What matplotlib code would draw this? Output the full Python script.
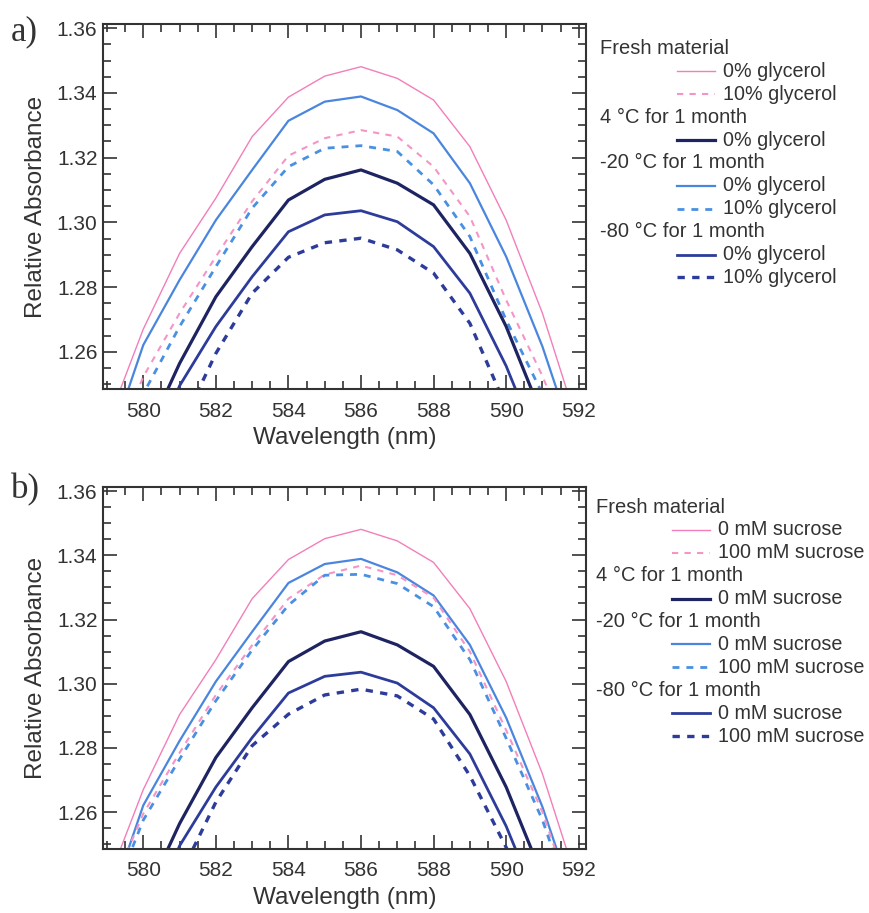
import numpy as np
import matplotlib
matplotlib.use("Agg")
import matplotlib.pyplot as plt
from matplotlib.lines import Line2D
from matplotlib.ticker import MultipleLocator, FormatStrFormatter

plt.rcParams['font.family'] = ['Liberation Sans', 'DejaVu Sans']

# wavelength (nm)
wl = np.arange(579, 593)

# curves shared by both panels
fresh_0 = [1.2376, 1.2670, 1.2904, 1.3075, 1.3265, 1.3387, 1.3452, 1.3481, 1.3445, 1.3378, 1.3234, 1.3007, 1.2719, 1.2366]
c4_0 = [1.2050, 1.2320, 1.2564, 1.2770, 1.2925, 1.3069, 1.3133, 1.3162, 1.3121, 1.3054, 1.2904, 1.2678, 1.2400, 1.2100]
m20_0 = [1.2290, 1.2621, 1.2822, 1.3007, 1.3162, 1.3314, 1.3373, 1.3389, 1.3347, 1.3275, 1.3121, 1.2894, 1.2616, 1.2280]
m80_0 = [1.1950, 1.2220, 1.2495, 1.2678, 1.2832, 1.2971, 1.3023, 1.3036, 1.3002, 1.2925, 1.2781, 1.2556, 1.2280, 1.2000]

# panel a: 10% glycerol
fresh_gly = [1.2250, 1.2523, 1.2719, 1.2894, 1.3065, 1.3206, 1.3260, 1.3285, 1.3265, 1.3172, 1.3018, 1.2760, 1.2525, 1.2250]
m20_gly = [1.2220, 1.2470, 1.2678, 1.2863, 1.3044, 1.3172, 1.3229, 1.3237, 1.3219, 1.3116, 1.2956, 1.2698, 1.2470, 1.2200]
m80_gly = [1.1800, 1.2100, 1.2360, 1.2595, 1.2781, 1.2892, 1.2937, 1.2951, 1.2915, 1.2843, 1.2688, 1.2430, 1.2150, 1.1900]

# panel b: 100 mM sucrose
fresh_suc = [1.2330, 1.2595, 1.2785, 1.2965, 1.3120, 1.3265, 1.3340, 1.3368, 1.3338, 1.3268, 1.3100, 1.2855, 1.2600, 1.2270]
m20_suc = [1.2290, 1.2575, 1.2765, 1.2947, 1.3105, 1.3245, 1.3338, 1.3341, 1.3312, 1.3240, 1.3075, 1.2830, 1.2575, 1.2250]
m80_suc = [1.1900, 1.2180, 1.2400, 1.2631, 1.2807, 1.2905, 1.2965, 1.2983, 1.2962, 1.2890, 1.2713, 1.2490, 1.2250, 1.2000]

groups = ['Fresh material', '4 \u00b0C for 1 month', '-20 \u00b0C for 1 month', '-80 \u00b0C for 1 month']

PINK = '#f27fba'
PINK_D = '#f495c6'
BLUE = '#4a86de'
BLUE_D = '#4a90e2'
NAVY = '#1e2462'
ROYAL = '#2d3c9a'
TXT = '#333333'

sty = {
    'fresh0': dict(color=PINK, lw=1.0, ls='-'),
    'fresh1': dict(color=PINK_D, lw=1.5, dashes=(3, 3)),
    'c40': dict(color=NAVY, lw=2.3, ls='-'),
    'm200': dict(color=BLUE, lw=1.6, ls='-'),
    'm201': dict(color=BLUE_D, lw=2.0, dashes=(2.5, 2.5)),
    'm800': dict(color=ROYAL, lw=2.0, ls='-'),
    'm801': dict(color=ROYAL, lw=2.4, dashes=(2.2, 2.2)),
}

W, H = 870, 913
fig = plt.figure(figsize=(W / 100, H / 100), dpi=100)


def px(x, y):
    return x / W, 1 - y / H


def panel(ax, extra, unit, letter, ly, lx):
    series = [('fresh0', fresh_0), ('m200', m20_0), ('fresh1', extra[0]),
              ('m201', extra[1]), ('c40', c4_0), ('m800', m80_0), ('m801', extra[2])]
    for key, vals in series:
        ax.plot(wl, vals, **sty[key])
    ax.set_xlim(578.89, 592.2)
    ax.set_ylim(1.2485, 1.3613)
    ax.xaxis.set_major_locator(MultipleLocator(2))
    ax.xaxis.set_minor_locator(MultipleLocator(0.5))
    ax.yaxis.set_major_locator(MultipleLocator(0.02))
    ax.yaxis.set_minor_locator(MultipleLocator(0.005))
    ax.yaxis.set_major_formatter(FormatStrFormatter('%.2f'))
    ax.tick_params(which='both', direction='in', top=True, right=True,
                   colors=TXT, width=1.2, labelsize=15)
    ax.tick_params(which='major', length=10)
    ax.tick_params(which='minor', length=5.5)
    ax.tick_params(axis='x', pad=9)
    ax.tick_params(axis='y', pad=4)
    for s in ax.spines.values():
        s.set_linewidth(1.5)
        s.set_color(TXT)
    ax.set_xlabel('Wavelength (nm)', fontsize=17.5, color=TXT, labelpad=5)
    ax.set_ylabel('Relative Absorbance', fontsize=17.5, color=TXT, labelpad=7)

    # legend, laid out by hand
    x_head, x_h0, x_h1, x_txt = lx
    rows = [(groups[0], None), ('fresh0', '0' + unit), ('fresh1', extra[3] + unit),
            (groups[1], None), ('c40', '0' + unit),
            (groups[2], None), ('m200', '0' + unit), ('m201', extra[3] + unit),
            (groups[3], None), ('m800', '0' + unit), ('m801', extra[3] + unit)]
    for i, (a, b) in enumerate(rows):
        y = ly + i * 22.9
        if b is None:
            fig.text(*px(x_head, y), a, fontsize=14.5, color=TXT, va='center', ha='left')
        else:
            (x0, yy), (x1, _) = px(x_h0, y), px(x_h1, y)
            fig.add_artist(Line2D([x0, x1], [yy, yy], transform=fig.transFigure, **sty[a]))
            fig.text(*px(x_txt, y), b, fontsize=14.2, color=TXT, va='center', ha='left')
    fig.text(*px(11, ly - 17), letter, fontsize=25, color=TXT, va='center', ha='left',
             family=['Liberation Serif', 'DejaVu Serif'])


ax1 = fig.add_axes([103 / W, 1 - 389 / H, 483 / W, 365 / H])
panel(ax1, (fresh_gly, m20_gly, m80_gly, '10'), '% glycerol', 'a)', 48.5, (600, 677, 715, 723))

ax2 = fig.add_axes([103 / W, 1 - 849 / H, 483 / W, 362 / H])
panel(ax2, (fresh_suc, m20_suc, m80_suc, '100'), ' mM sucrose', 'b)', 507, (596, 672, 710, 718))

fig.savefig('out.png', dpi=100)
